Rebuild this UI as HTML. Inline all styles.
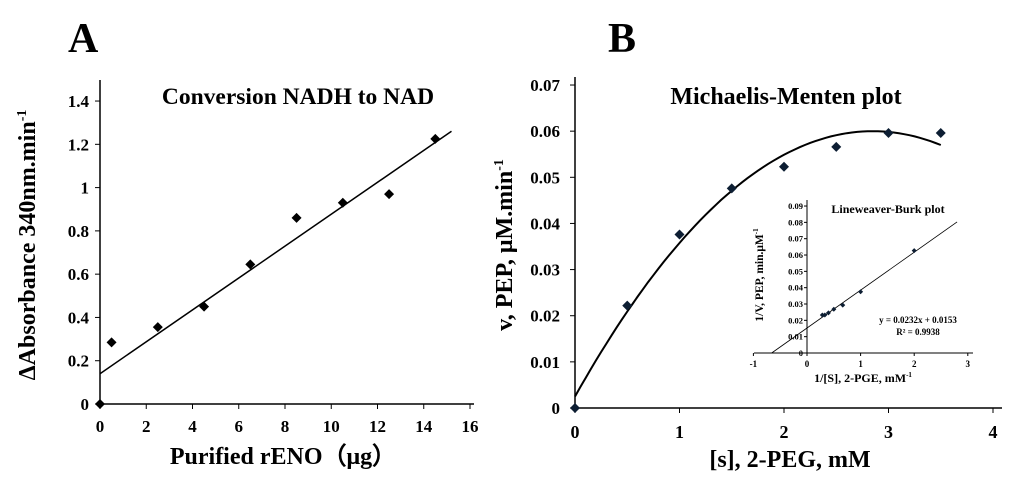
<!DOCTYPE html>
<html><head><meta charset="utf-8"><style>
body{margin:0;background:#fff;}
svg{display:block;font-family:"Liberation Serif",serif;font-weight:bold;}
</style></head><body>
<svg id="s" width="1024" height="484" viewBox="0 0 1024 484">
<text x="68" y="52" font-size="42">A</text>
<text x="608" y="52" font-size="42">B</text>
<g id="ga"></g><g id="gb"></g><g id="gc"></g>
</svg>
<script>
// Panel A data
const aX=[0,0.5,2.5,4.5,6.5,8.5,10.5,12.5,14.5];
const aY=[0,0.285,0.355,0.45,0.645,0.86,0.93,0.97,1.225];
const aXTicks=[0,2,4,6,8,10,12,14,16];
const aYTicks=[0,0.2,0.4,0.6,0.8,1,1.2,1.4];
const aFit=[0.14,0.0737]; // intercept, slope
// Panel B data
const bX=[0,0.5,1,1.5,2,2.5,3,3.5];
const bY=[0,0.0222,0.0376,0.0476,0.0523,0.0566,0.0596,0.0596];
const bXTicks=[0,1,2,3,4];
const bYTicks=[0,0.01,0.02,0.03,0.04,0.05,0.06,0.07];
const bFit=[0.0025,0.04035,-0.00708];
// Inset data
const cX=[0.286,0.333,0.4,0.5,0.667,1,2];
const cY=[0.0233,0.0233,0.0246,0.0268,0.0293,0.0375,0.0627];
const cXTicks=[-1,0,1,2,3];
const cYTicks=[0,0.01,0.02,0.03,0.04,0.05,0.06,0.07,0.08,0.09];
const cFit=[0.0153,0.0232];

const NS="http://www.w3.org/2000/svg";
function mk(p,t,a,txt){const e=document.createElementNS(NS,t);for(const k in a)e.setAttribute(k,a[k]);if(txt!==undefined)e.textContent=txt;p.appendChild(e);return e;}

// ---- Panel A
const ga=document.getElementById('ga');
const ax=v=>100+v*23.125, ay=v=>404-v*216.4;
let e;
e=mk(ga,'line',{x1:100,y1:404,x2:474,y2:404,stroke:'#000','stroke-width':1.5});

e=mk(ga,'line',{x1:100,y1:404,x2:100,y2:80,stroke:'#000','stroke-width':1.5});

aXTicks.forEach(t=>{mk(ga,'line',{x1:ax(t),y1:404,x2:ax(t),y2:409,stroke:'#000'});
 e=mk(ga,'text',{x:ax(t),y:432,'font-size':17,'text-anchor':'middle'},String(t));
 });
aYTicks.forEach(t=>{mk(ga,'line',{x1:95,y1:ay(t),x2:100,y2:ay(t),stroke:'#000'});
 e=mk(ga,'text',{x:89,y:ay(t)+6,'font-size':17,'text-anchor':'end'},String(t));
 });
e=mk(ga,'line',{x1:ax(0),y1:ay(aFit[0]),x2:ax(15.2),y2:ay(aFit[0]+aFit[1]*15.2),stroke:'#000','stroke-width':1.5});

aX.forEach((x,i)=>{const cx=ax(x),cy=ay(aY[i]);
 e=mk(ga,'path',{d:`M${cx-5} ${cy}L${cx} ${cy-5}L${cx+5} ${cy}L${cx} ${cy+5}Z`,fill:'#000'});
 });
e=mk(ga,'text',{x:298,y:104,'font-size':23.5,'text-anchor':'middle'},'Conversion NADH to NAD');

e=mk(ga,'text',{x:283,y:464,'font-size':24,'text-anchor':'middle'},'Purified rENO（μg）');

e=mk(ga,'text',{x:0,y:0,'font-size':24,'text-anchor':'middle',transform:'translate(35,245) rotate(-90)'});
e.innerHTML='ΔAbsorbance 340nm.min<tspan dy="-9" font-size="14">-1</tspan>';


// ---- Panel B
const gb=document.getElementById('gb');
const bx=v=>575+v*104.5, by=v=>408-v*4614;
e=mk(gb,'line',{x1:575,y1:408,x2:1002,y2:408,stroke:'#000','stroke-width':1.5});

e=mk(gb,'line',{x1:575,y1:408,x2:575,y2:77,stroke:'#000','stroke-width':1.5});

bXTicks.forEach(t=>{mk(gb,'line',{x1:bx(t),y1:408,x2:bx(t),y2:413,stroke:'#000'});
 e=mk(gb,'text',{x:bx(t),y:438,'font-size':18,'text-anchor':'middle'},String(t));
 });
bYTicks.forEach(t=>{mk(gb,'line',{x1:570,y1:by(t),x2:575,y2:by(t),stroke:'#000'});
 e=mk(gb,'text',{x:560,y:by(t)+6,'font-size':17,'text-anchor':'end'},String(t));
 });
let d='';for(let i=0;i<=70;i++){const x=3.5*i/70;const y=bFit[0]+bFit[1]*x+bFit[2]*x*x;d+=(i?'L':'M')+bx(x).toFixed(1)+' '+by(y).toFixed(1);}
e=mk(gb,'path',{d:d,fill:'none',stroke:'#000','stroke-width':2});

bX.forEach((x,i)=>{const cx=bx(x),cy=by(bY[i]);
 e=mk(gb,'path',{d:`M${cx-5} ${cy}L${cx} ${cy-5}L${cx+5} ${cy}L${cx} ${cy+5}Z`,fill:'#0d1e33'});
 });
e=mk(gb,'text',{x:786,y:104,'font-size':24,'text-anchor':'middle'},'Michaelis-Menten plot');

e=mk(gb,'text',{x:790,y:467,'font-size':24,'text-anchor':'middle'},'[s], 2-PEG, mM');

e=mk(gb,'text',{x:0,y:0,'font-size':24,'text-anchor':'middle',transform:'translate(512,245) rotate(-90)'});
e.innerHTML='v, PEP, μM.min<tspan dy="-9" font-size="14">-1</tspan>';


// ---- Inset
const gc=document.getElementById('gc');
const cx_=v=>807+v*53.6, cy_=v=>353-v*1633;
e=mk(gc,'line',{x1:754,y1:353,x2:973,y2:353,stroke:'#000'});

e=mk(gc,'line',{x1:807,y1:353,x2:807,y2:200,stroke:'#000'});

cXTicks.forEach(t=>{mk(gc,'line',{x1:cx_(t),y1:353,x2:cx_(t),y2:356,stroke:'#000'});
 e=mk(gc,'text',{x:cx_(t),y:367,'font-size':9,'text-anchor':'middle'},String(t));
 });
cYTicks.forEach(t=>{mk(gc,'line',{x1:804,y1:cy_(t),x2:807,y2:cy_(t),stroke:'#000'});
 e=mk(gc,'text',{x:803,y:cy_(t)+3,'font-size':8.5,'text-anchor':'end'},String(t));
 });
const x0=-cFit[0]/cFit[1];
e=mk(gc,'line',{x1:cx_(x0),y1:cy_(0),x2:cx_(2.8),y2:cy_(cFit[0]+cFit[1]*2.8),stroke:'#000','stroke-width':0.8});

cX.forEach((x,i)=>{const px=cx_(x),py=cy_(cY[i]);
 e=mk(gc,'path',{d:`M${px-2.5} ${py}L${px} ${py-2.5}L${px+2.5} ${py}L${px} ${py+2.5}Z`,fill:'#0d1e33'});
 });
e=mk(gc,'text',{x:888,y:213,'font-size':12,'text-anchor':'middle'},'Lineweaver-Burk plot');

e=mk(gc,'text',{x:918,y:323,'font-size':9,'text-anchor':'middle'},'y = 0.0232x + 0.0153');

e=mk(gc,'text',{x:918,y:335,'font-size':9,'text-anchor':'middle'},'R² = 0.9938');

e=mk(gc,'text',{x:863,y:382,'font-size':12,'text-anchor':'middle'});
e.innerHTML='1/[S], 2-PGE, mM<tspan dy="-5" font-size="7">-1</tspan>';

e=mk(gc,'text',{x:0,y:0,'font-size':11.5,'text-anchor':'middle',transform:'translate(763,275) rotate(-90)'});
e.innerHTML='1/V, PEP, min.μM<tspan dy="-5" font-size="7">-1</tspan>';

</script>
</body></html>
